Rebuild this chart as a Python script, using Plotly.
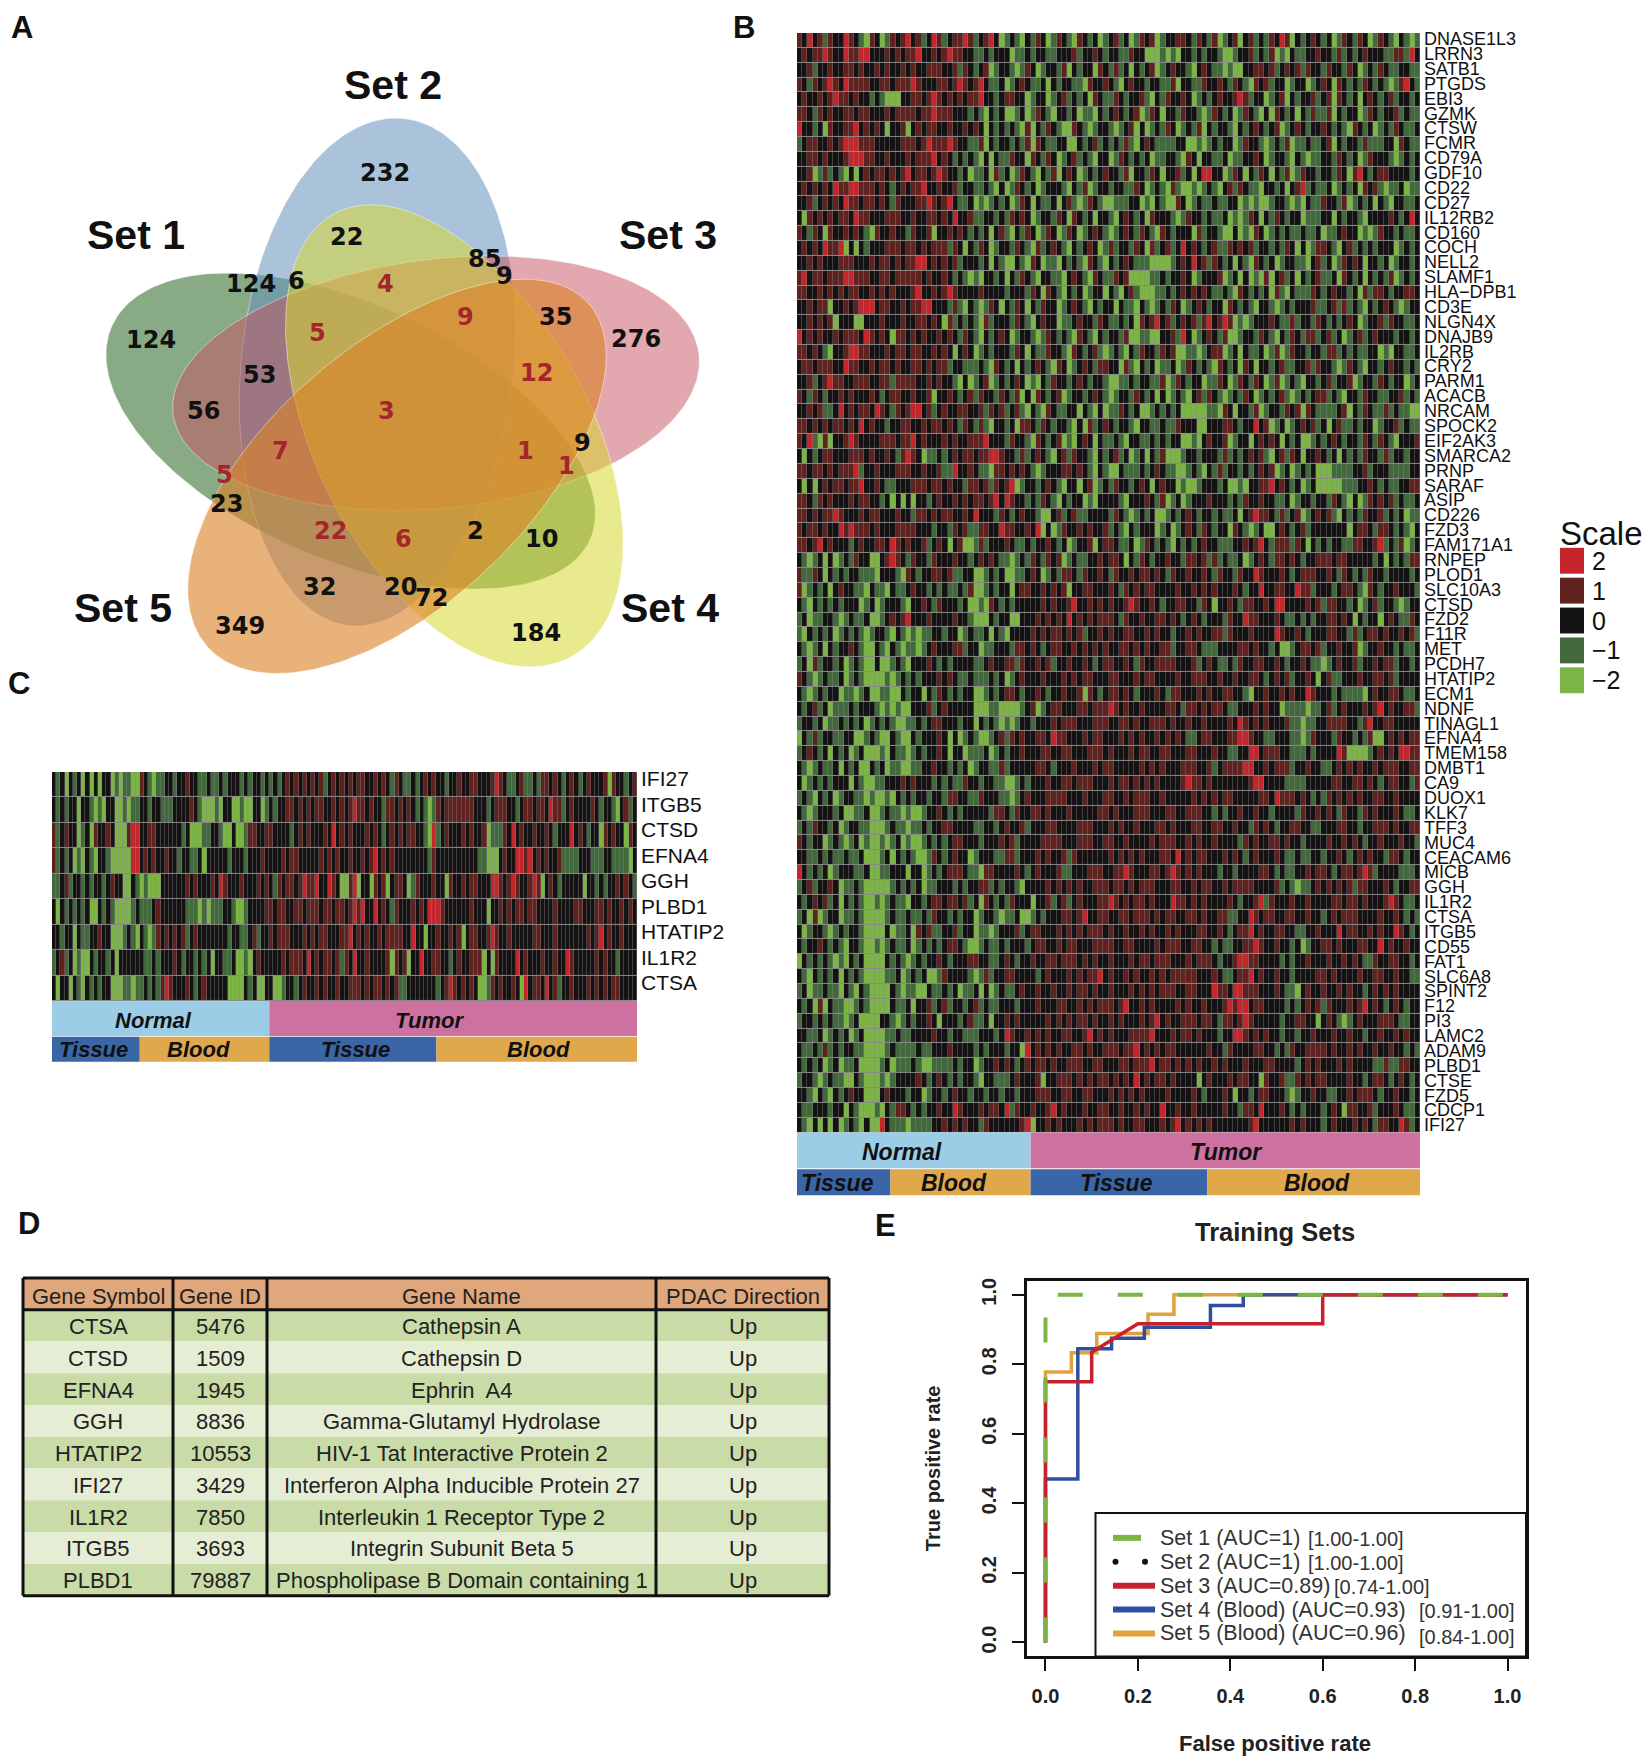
import numpy as np
import plotly.graph_objects as go

W, H = 1650, 1759

# panel A
set_names = ["Set 1", "Set 2", "Set 3", "Set 4", "Set 5"]
venn_counts = ["232", "22", "85", "9", "124", "6", "4", "5", "9", "35", "276", "124", "53", "12", "56", "3",
               "7", "1", "1", "9", "5", "23", "22", "6", "2", "10", "32", "20", "72", "349", "184"]

# panel B, digit = scale value + 2
b_genes = ["DNASE1L3", "LRRN3", "SATB1", "PTGDS", "EBI3", "GZMK", "CTSW", "FCMR", "CD79A", "GDF10", "CD22", "CD27",
           "IL12RB2", "CD160", "COCH", "NELL2", "SLAMF1", "HLA−DPB1", "CD3E", "NLGN4X", "DNAJB9", "IL2RB", "CRY2",
           "PARM1", "ACACB", "NRCAM", "SPOCK2", "EIF2AK3", "SMARCA2", "PRNP", "SARAF", "ASIP", "CD226", "FZD3",
           "FAM171A1", "RNPEP", "PLOD1", "SLC10A3", "CTSD", "FZD2", "F11R", "MET", "PCDH7", "HTATIP2", "ECM1", "NDNF",
           "TINAGL1", "EFNA4", "TMEM158", "DMBT1", "CA9", "DUOX1", "KLK7", "TFF3", "MUC4", "CEACAM6", "MICB", "GGH",
           "IL1R2", "CTSA", "ITGB5", "CD55", "FAT1", "SLC6A8", "SPINT2", "F12", "PI3", "LAMC2", "ADAM9", "PLBD1",
           "CTSE", "FZD5", "CDCP1", "IFI27"]
b_sections = [18, 27, 34, 41]
b_rows = [
    "32423132243210320132 34231243123343123420 12102132013210321201 23120132301223321321 30123023121324302123 21201321320132102101",
    "23233432243344222323 23342232343322112122 20112122112223122321 22113220001010221212 21001223121301021122 32213121232221133142",
    "22312232233232232322 32322333223132123012 21013201221302122032 13120212301232210232 11010022332312323132 21322132012132112211",
    "32132343243333223323 33432223323432342112 01232112021221103223 21023221221130221132 23213210323122012201 23203212132121013421",
    "23223234332322121000 22332343232323342212 33220122012312120321 13212231021322320121 23223431220123021223 12303212023212312212",
    "33213232233233222323 33323343332221210212 00120132102212011021 23212301320221322101 32120132102032120213 11302122013212231211",
    "42212032233423232022 30232332232232320212 12103021321003210122 10123020121320121302 12210212321230123212 23212103212012132112",
    "12332232344433322222 33323433343221130212 21213032112200212312 12131023211112200101 21220132210121301121 12302122131112203211",
    "22332322234443322322 23233342321212102021 13220321320123121022 01321212011221032022 11201122320122102101 12213212013222101212",
    "22301312102023233232 34233234322120112031 20132102130232012123 22130221320223120244 22013202132021301322 12213203421233222212",
    "23232324334433323212 32334223223122112102 01321201222102130122 12211320121031001012 10231321102212023412 11201212032310112011",
    "22312323243323323213 22233432342112010121 20132021120231013210 01112201021003201211 21122010100122101021 13221301212021022112",
    "20323232332433222333 22322332324223112212 13232012213203212022 10232120322210132212 11201013202132122011 12202122102222321242",
    "32132032232321032232 21322302232321212023 10213201320132012321 01232132103212220312 21002010320121211211 20112322010132212112",
    "23232433402021222333 23323233313202132012 21321031232102123201 31221320312312423212 31132323122121320201 33210231212122201212",
    "22323222333222323323 23344232323122212021 00210320110212103210 21232111000012324231 32120210321201221102 31201323202212012212",
    "34233233344333223323 33332322321210102212 02132102211023210321 13230000112122320122 23012020103023120212 31120321202121301212",
    "33223232323322323232 22342232343222232222 12221320321021201220 21023100011212323232 11210321212031021113 21232212031332122332",
    "22323302232344423322 32334422213102101320 21320213220123210212 20211021012132012321 22032121022101212223 11231312102123210122",
    "22323230222002223222 32233232031212103122 21321023220112322132 11212032342312323134 23430101222321131221 32121232012231322112",
    "42323223233324323203 32323223232132102123 20122101321210321021 22130011002231420123 21300122132102132133 12312012312322212212",
    "33232102234433222323 32332232320232012122 21320211322103212310 12102132213230011012 33012021120130132212 21331212112201022112",
    "23323332243322323323 22332323312211121032 12021232103201232133 22031021201120132121 03212032022123112231 32210132102212322121",
    "22312343322333223313 33322323221020123012 12320102132212321221 00112122113013212201 13201321320130121022 12312230122132122012",
    "32132122323222321233 22322302232123132213 21302032123012212321 01221321202012102313 21012132012123101212 33121022132211223121",
    "22323112423233243213 23442312322332231323 12310210321122021020 11321200121212000001 10320221301221323032 11112302132113121100",
    "33232323323242322122 33223233232132131022 12033213212210203123 21221022112113222002 22332122423012012323 12023112122012231211",
    "32410302234322223332 33423222323223334222 13221032123010232021 12102211212122001023 22301220232320212001 21232122132132102223",
    "20212332223332322321 34320112123233233443 22131232102313221021 23120120213000122122 21312123231023132022 32120212132213122122",
    "33233232333412232223 33223223114223211033 23232101222332321021 00211121232110012102 13122121232301201212 00011112231222111122",
    "20202323323342232112 22333233232213323132 34012212321022023012 13221232023220100122 21200102233423212012 00000111223212112233",
    "33213232223233221202 02022123223232332342 43221213210212201022 22102223213012012223 22212132232211201221 22132102013232312112",
    "33232334322232332223 22133232332232422213 21232210023123112222 13210121200121232122 12112023433213123012 32310212132231212011",
    "32332322434333232223 33322212213231133224 33223240201322323223 12102122201201232132 12203210120023212312 22222202332133212102",
    "33234232221232233243 23223123202300131222 32112122321201223023 32112013212102121232 21112232342133313202 12122113322341213012",
    "21012020121322002343 21322132223221232321 10121321323012112232 33202132122322133231 31211201232133232122 33323322222120212133",
    "31132021212211102221 03212233231122001212 00112320121332132232 13223233232132232232 13221322432223212333 22321321213221222212",
    "30121202322110211021 12322121211213001212 20233223232302233222 32132323322223223232 32223212242233224331 22212332103212232221",
    "21021212122201201222 10223213222120010321 21222223232234223232 32234322321223322132 02232133223244222232 31332212012312210122",
    "12011221012112001232 34222322223221000212 20022232323242323233 32132232233232123212 22132243322232112121 22332320212202321132",
    "10212120121210122102 10101122122012112021 02222323233232312232 32233223232212232322 33132223222243223212 22332213123323223231",
    "21012021223210021021 01101232223312201122 21332321233223232323 22332323223312233211 12222332322120012332 31223223012232212112",
    "12031221201210020012 10222321212222112322 33132232312232232123 32232132233332223123 21121322332232122321 10123223122323312212",
    "32101211201210000101 21212223232112111212 01232223222323233222 33222323322223223332 23223223321232312232 02311222322332312222",
    "21012122011012001100 21220213212122001212 33212232122322303212 33232122232133222323 22332210223223232243 22212111102322332112",
    "21231201112122210101 00222312322222000110 00012301233222332333 43232232222332133232 33211222323220111101 12312322232342322331",
    "12212011212120121210 01121233222122021210 10122122232333222333 22332322333232232232 22232432323222311011 22333322134223322222",
    "02131221122001210021 00212223202012100123 13232233243322232332 22323232232323211233 22233443221122211013 22213221213002323233",
    "12321202120120001021 10121223202201112012 12232223322332223332 32223233223322233222 32211224423332211121 22224300001232324433",
    "21012112021200212011 00112232212120122113 12222233212223222323 32222232323222333223 12333344223233312232 21123232322323332233",
    "20121212220210011222 32322212121132212211 00121222322332333222 32332323232222343323 22222223442222111122 22233223323212332213",
    "12102120122110100102 12122122133221132221 10123222333322232223 32232333223222223232 32332222233243332321 21323232322332232222",
    "21012221200112001211 01001223212122222133 21322332322232222233 23222333222332233322 12122322322122221322 32321322132322232112",
    "12132212012211000121 10112122332222112212 32231222332222333222 32322322233232223322 33223221323212233221 12223322122333232233",
    "32122012101201001012 01001212123322212223 23122223333222333223 32232222323332232322 32222132322332322122 22322323212232223221",
    "22112121121120001202 12100132123220122211 33122232322313222222 32323232223324232332 22323212322232112112 21223212323221332122",
    "42121201222112001122 20220121233321103322 22321232223112223332 23343222332343232322 21221222233212112232 33212332343122221112",
    "12312232011210000012 12120112221212233121 22102222323232322333 23323233322233223233 22323333222231210112 32323231332223212233",
    "21232312021210010121 10221233233231203212 13222022312312322233 43232332322243323232 22232122341322232232 22233233232223432112",
    "12030122011210000121 12112132212122012210 11200121222332342233 22332333232332233232 23311224323322332232 21232333222232232121",
    "20122101212210000201 12032311223122011012 22312332223232323332 32232232322323222332 23212334232233221122 32224233223232243212",
    "21223212102210010121 12012121233210012112 12221233223233222333 32233222232333223322 12112233432232212012 23323222332242322322",
    "02121210102120000212 10121223212223322112 32122322332333232322 32223233233322232333 21223443322221212232 22322323211322332212",
    "21021212021210000112 01212001322221013122 33222212322232323342 32232322323233333222 32112334232232212222 33232222322332232211",
    "12011211021021000021 01100211212011202012 11232232232232332322 32223232323332233222 43324433322232110232 23223232212323232222",
    "21203021100121000021 12022312312212312112 22122232223322323233 32342232322223232232 22343442332222121232 31322232342321232122",
    "12212121101200002210 12122320222123112022 32322222323232332322 32322232342322333233 21332343222221223322 02321012322233321122",
    "22112012120120000112 11222232212211122212 43223232322332234232 32223333422232332322 21224432323221221223 22232232212232232322",
    "21121312122110000121 11121122232222121222 12204232323223323223 33233423232332222223 22132222332212132233 33232232322322322121",
    "21212012011200001201 11210011112122012232 32123233232233322332 22332333423323232322 32322232223322221232 32223232222113113322",
    "12210121100210001012 22232123212122102211 12322230223332323233 23232423233232222023 22232332203223113232 33222232212332123212",
    "22102102123220002322 21220122123221221221 22122233322332233222 32323232222322223212 22320221233222101223 22112232333212232212",
    "21122212202100010213 32121223224322232332 41322322342322232233 22322323224223223222 22322133242223212122 21232033223122232112",
    "21020202012102004211 10111122323232213222 22234022323222323233 32322332223234232323 22222223422222232322 21232223232133224312",
]

# panel C
c_genes = ["IFI27", "ITGB5", "CTSD", "EFNA4", "GGH", "PLBD1", "HTATIP2", "IL1R2", "CTSA"]
c_sections = [21, 31, 40, 48]
c_rows = [
    "2120212020202201011003210112212232211211212221212212121232323232312323232 332232321321121232322122322332223432112311213323212321232223032212312433",
    "2121220221010220010112212211122223210001022001002201212233232323322323234 332322133232321210132333333322212333221233233243312322223212210231222301",
    "3123220120322320003442233222222120001122100200133223322221232322232423232 223232123232332210412322232322301113242322322321222423212203232203243432",
    "3121201021022100000442323223221221120222221222122232222323322222323232232 232342323222222221322222222221100023224434232322311112221112211110204",
    "1123122121221232200210100022222232322232432223222323213233234334224320034 022032302332013222322032232332224432343223430232122222022121223232102",
    "2021212120021210000121112322222211101011122100122223323322332333233233234 342242321322232324443222222322202232323323322223222233222332322323",
    "2212202112232200012102101323232312322222221221123122323332223232332223342 323223233332242202232232302332234322322222332223222222232342322322",
    "1231201002122120222222112122232122121202211200102322222323332423233231324 22322223032302242233221232233302032222423222322322432222232322122",
    "2022021021212200011011212134322232123222220000212002200122123223232232233 323233232311222222212343232320013232232042332423122322232323233",
]

# panel D
table_header = ["Gene Symbol", "Gene ID", "Gene Name", "PDAC Direction"]
gene_symbols = ["CTSA", "CTSD", "EFNA4", "GGH", "HTATIP2", "IFI27", "IL1R2", "ITGB5", "PLBD1"]
gene_ids = ["5476", "1509", "1945", "8836", "10553", "3429", "7850", "3693", "79887"]
gene_names = ["Cathepsin A", "Cathepsin D", "Ephrin  A4", "Gamma-Glutamyl Hydrolase", "HIV-1 Tat Interactive Protein 2",
              "Interferon Alpha Inducible Protein 27", "Interleukin 1 Receptor Type 2", "Integrin Subunit Beta 5",
              "Phospholipase B Domain containing 1"]
pdac_direction = ["Up"] * 9

# panel E
set1_fpr = [0, 0, 1]
set1_tpr = [0, 1, 1]
set3_fpr = [0, 0, 0.1, 0.1, 0.2, 0.6, 0.6, 1]
set3_tpr = [0, 0.75, 0.75, 0.835, 0.917, 0.917, 1, 1]
set4_fpr = [0, 0, 0.07, 0.07, 0.143, 0.143, 0.214, 0.214, 0.357, 0.357, 0.428, 0.428, 1]
set4_tpr = [0, 0.47, 0.47, 0.845, 0.845, 0.875, 0.875, 0.907, 0.907, 0.969, 0.969, 1, 1]
set5_fpr = [0, 0, 0.056, 0.056, 0.111, 0.111, 0.222, 0.222, 0.278, 0.278, 1]
set5_tpr = [0, 0.778, 0.778, 0.833, 0.833, 0.889, 0.889, 0.944, 0.944, 1, 1]
roc_legend = ["Set 1 (AUC=1)", "Set 2 (AUC=1)", "Set 3 (AUC=0.89)", "Set 4 (Blood) (AUC=0.93)", "Set 5 (Blood) (AUC=0.96)"]
roc_ci = ["[1.00-1.00]", "[1.00-1.00]", "[0.74-1.00]", "[0.91-1.00]", "[0.84-1.00]"]

scale_labels = ["2", "1", "0", "−1", "−2"]

RED, DARK_RED, BLACK, DARK_GREEN, GREEN = "#c4262c", "#60221f", "#141212", "#41693c", "#7db446"
HEAT_SCALE = [[0, GREEN], [0.25, DARK_GREEN], [0.5, BLACK], [0.75, DARK_RED], [1, RED]]
SANS = "Liberation Sans"
VENN_DY = -2


def decode(rows, n_cols):
    out = []
    for row in rows:
        row = row.replace(" ", "").ljust(n_cols, "2")[:n_cols]
        out.append([int(c) - 2 for c in row])
    return out


def domain(p0, p1, size):
    return [p0 / size, p1 / size]


def y_domain(top, bottom):
    return [1 - bottom / H, 1 - top / H]


def petal(tip, tail, half_width):
    # egg outline between its two ends, very slightly fatter towards the tip
    tip, tail = np.array(tip, float), np.array(tail, float)
    mid = (tip + tail) / 2
    axis = (tip - tail) / 2
    normal = np.array([-axis[1], axis[0]]) / np.hypot(*axis)
    t = np.linspace(0, 2 * np.pi, 240)
    width = half_width * np.sin(t) * (1 + 0.03 * np.cos(t))
    return mid[0] + axis[0] * np.cos(t) + normal[0] * width, mid[1] + axis[1] * np.cos(t) + normal[1] * width


fig = go.Figure()

layout_axes = dict(visible=False, fixedrange=True)
fig.update_layout(
    width=W, height=H, margin=dict(l=0, r=0, t=0, b=0), paper_bgcolor="white", plot_bgcolor="rgba(0,0,0,0)",
    showlegend=False, font=dict(family=SANS, color="#111111"),
    xaxis=dict(domain=[0, 1], range=[0, W], **layout_axes),
    yaxis=dict(domain=[0, 1], range=[H, 0], **layout_axes),
)

# panel A: five overlapping petals
petal_colors = ["rgba(50,110,45,0.58)", "rgba(100,145,190,0.55)", "rgba(200,80,95,0.50)",
                "rgba(215,215,50,0.55)", "rgba(220,130,40,0.62)"]
petal_ends = [((112, 325), (590, 540), 128), ((404, 117), (349, 626), 136), ((699, 354), (173, 413), 125),
              ((570, 658), (335, 212), 137), ((208, 648), (588, 302), 130)]
for color, (tip, tail, half_width) in zip(petal_colors, petal_ends):
    px, py = petal(tip, tail, half_width)
    fig.add_trace(go.Scatter(x=px, y=py + VENN_DY, mode="lines", fill="toself", fillcolor=color,
                             line=dict(color="rgba(255,255,255,0.45)", width=1), hoverinfo="skip"))

ann = []


def text(x, y, s, size, color="#111111", weight="normal", italic=False, family=SANS, anchor="center", angle=0):
    ann.append(dict(x=x, y=y, xref="x", yref="y", text=s, showarrow=False, xanchor=anchor, yanchor="middle",
                    textangle=angle, font=dict(family=family, size=size, color=color, weight=weight,
                                               style="italic" if italic else "normal")))


venn_pos = [(385, 172), (346, 236), (484, 258), (504, 275), (251, 283), (296, 280), (385, 283), (317, 332), (465, 316),
            (555, 316), (636, 338), (151, 339), (259, 374), (536, 372), (203, 411), (386, 411), (280, 451), (525, 451),
            (566, 466), (582, 443), (224, 475), (226, 504), (330, 531), (403, 539), (475, 531), (541, 539), (319, 587),
            (400, 587), (431, 598), (240, 626), (536, 634)]
red_idx = {6, 7, 8, 13, 15, 16, 17, 18, 20, 22, 23}
for i, (label, pos) in enumerate(zip(venn_counts, venn_pos)):
    text(pos[0], pos[1] + VENN_DY, label, 24, "#a3262c" if i in red_idx else "#111111", "bold", family="DejaVu Sans")
for name, pos in zip(set_names, [(136, 232), (393, 81), (668, 232), (670, 606), (123, 606)]):
    text(pos[0], pos[1], name, 41, "#111111", "bold")
for letter, pos in zip("ABCDE", [(22, 24), (744, 24), (19, 682), (29, 1224), (885, 1226)]):
    text(pos[0], pos[1], letter, 31, "#111111", "bold")

shapes = []


def rect(x0, y0, x1, y1, fill, layer="above", line=None, width=0):
    shapes.append(dict(type="rect", xref="x", yref="y", x0=x0, y0=y0, x1=x1, y1=y1, fillcolor=fill, layer=layer,
                       line=dict(color=line or fill, width=width)))


def heat_panel(rows, genes, sections, box, bars, axes, label_size, label_shift, group_dx, sub_dx, tsize):
    x0, x1, top, bottom = box
    bar1, bar2 = bars
    xname, yname = axes
    n_cols = sum(sections)
    n_rows = len(rows)
    rect(x0, top, x1, bottom, "#8a8a8a", "below")
    fig.add_trace(go.Heatmap(z=decode(rows, n_cols), colorscale=HEAT_SCALE, zmin=-2, zmax=2, showscale=False,
                             xgap=0.4, ygap=1, hoverinfo="skip", xaxis=xname, yaxis=yname))
    # labels sit slightly above their rows, more so towards the top
    tick_pos = [i - label_shift[0] + (label_shift[0] - label_shift[1]) * i / (n_rows - 1) for i in range(n_rows)]
    fig.update_layout({
        xname.replace("x", "xaxis"): dict(domain=domain(x0, x1, W), range=[-0.5, n_cols - 0.5], anchor=yname,
                                          visible=False, fixedrange=True),
        yname.replace("y", "yaxis"): dict(domain=y_domain(top, bottom), range=[n_rows - 0.5, -0.5], anchor=xname,
                                          side="right", tickmode="array", tickvals=tick_pos,
                                          ticktext=genes, ticks="", showline=False, showgrid=False, zeroline=False,
                                          fixedrange=True, ticklabelstandoff=3,
                                          tickfont=dict(family=SANS, size=label_size, color="#111111")),
    })
    # sample group bars share the heatmap's column scale
    edges = x0 + np.cumsum([0] + sections) * (x1 - x0) / n_cols
    rect(edges[0], bottom, edges[2], bar1, "#9bcde6")
    rect(edges[2], bottom, edges[4], bar1, "#cd72a0")
    text((edges[0] + edges[2]) / 2 + group_dx[0], (bottom + bar1) / 2 + 2, "Normal", tsize, weight="bold", italic=True)
    text((edges[2] + edges[4]) / 2 + group_dx[1], (bottom + bar1) / 2 + 2, "Tumor", tsize, weight="bold", italic=True)
    for i, (fill, name) in enumerate(zip(["#3a66a7", "#e0a84a", "#3a66a7", "#e0a84a"],
                                         ["Tissue", "Blood", "Tissue", "Blood"])):
        rect(edges[i], bar1 + 1, edges[i + 1], bar2, fill)
        text((edges[i] + edges[i + 1]) / 2 + sub_dx[i], (bar1 + bar2) / 2 + 1, name, tsize, weight="bold", italic=True)


heat_panel(b_rows, b_genes, b_sections, (797, 1420, 29, 1133), (1169, 1196), ("x2", "y2"), 18, (0.1, 0),
           (-12, 1), (-6.5, -6.5, -2, 3.5), 23)
heat_panel(c_rows, c_genes, c_sections, (52, 637, 771, 1001), (1036, 1062), ("x3", "y3"), 21, (0.22, 0.22),
           (-7, -24), (-2, -6.5, 2.5, 1.5), 22)

# scale legend
text(1558, 532, "Scale", 33, anchor="left")
for i, (color, label) in enumerate(zip([RED, DARK_RED, BLACK, DARK_GREEN, GREEN], scale_labels)):
    rect(1560, 546 + 30 * i, 1584, 572 + 30 * i, color)
    text(1590, 559 + 30 * i, label, 25, anchor="left")

# panel D table
col_edges = [23, 173, 267, 656, 829]
header_top, header_bottom, table_bottom = 1279, 1311, 1598
row_h = (table_bottom - header_bottom) / len(gene_symbols)
rect(col_edges[0], header_top, col_edges[-1], header_bottom, "#e0a67c")
columns = [gene_symbols, gene_ids, gene_names, pdac_direction]
for r in range(len(gene_symbols)):
    y0 = header_bottom + r * row_h
    rect(col_edges[0], y0, col_edges[-1], y0 + row_h, "#c9dba6" if r % 2 == 0 else "#e6edd5")
for c, head in enumerate(table_header):
    cx = (col_edges[c] + col_edges[c + 1]) / 2
    text(cx, (header_top + header_bottom) / 2 + 3, head, 22, color="#222222")
    for r, value in enumerate(columns[c]):
        text(cx, header_bottom + (r + 0.5) * row_h + 1, str(value), 22, color="#222222")
for x in col_edges:
    shapes.append(dict(type="line", xref="x", yref="y", x0=x, x1=x, y0=header_top, y1=table_bottom,
                       line=dict(color="#111111", width=3)))
for y in [header_top, header_bottom, table_bottom]:
    shapes.append(dict(type="line", xref="x", yref="y", x0=col_edges[0], x1=col_edges[-1], y0=y, y1=y,
                       line=dict(color="#111111", width=3)))

# panel E ROC
for fpr, tpr, color in [(set5_fpr, set5_tpr, "#e0a23a"), (set4_fpr, set4_tpr, "#2f4f9e"), (set3_fpr, set3_tpr, "#c8202c")]:
    fig.add_trace(go.Scatter(x=fpr, y=tpr, mode="lines", line=dict(color=color, width=3.5), xaxis="x4", yaxis="y4",
                             hoverinfo="skip"))
fig.add_trace(go.Scatter(x=set1_fpr, y=set1_tpr, mode="lines", line=dict(color="#7db446", width=4, dash="25px,35px"),
                         xaxis="x4", yaxis="y4", hoverinfo="skip"))
roc_ticks = [0, 0.2, 0.4, 0.6, 0.8, 1]
roc_text = ["0.0", "0.2", "0.4", "0.6", "0.8", "1.0"]
roc_axis = dict(range=[-0.04, 1.04], tickvals=roc_ticks, ticktext=roc_text, ticks="outside", ticklen=12, tickwidth=2,
                tickcolor="#111111", showline=True, mirror=True, linewidth=2.5, linecolor="#111111", showgrid=False,
                zeroline=False, fixedrange=True, ticklabelstandoff=8,
                tickfont=dict(family=SANS, size=20, weight="bold", color="#222222"))
fig.update_layout(
    xaxis4=dict(domain=domain(1027, 1526, W), anchor="y4", **roc_axis),
    yaxis4=dict(domain=y_domain(1282, 1659), anchor="x4", tickangle=-90, **roc_axis),
)
text(1275, 1233, "Training Sets", 25.5, weight="bold", color="#222222")
text(1275, 1746, "False positive rate", 22, weight="bold", color="#222222")
text(933, 1470, "True positive rate", 20, weight="bold", color="#222222", angle=-90)

# ROC legend box
rect(1095.5, 1515, 1526, 1659, "white", line="#111111", width=2)
legend_y = [1540, 1564, 1588, 1612, 1636]
ci_x = [1306, 1306, 1332, 1417, 1417]
ci_dy = [1, 1, 1, 1, 4]
glyphs = [("#7db446", 1141), (None, None), ("#c8202c", 1155), ("#2f4f9e", 1155), ("#e0a23a", 1155)]
for label, ci, y, cx, dy, (color, end) in zip(roc_legend, roc_ci, legend_y, ci_x, ci_dy, glyphs):
    text(1158, y, label, 21.5, anchor="left", color="#333333")
    text(cx, y + dy, ci, 20, anchor="left", color="#333333")
    if color:
        shapes.append(dict(type="line", xref="x", yref="y", x0=1113, x1=end, y0=y, y1=y, line=dict(color=color, width=6)))
    else:
        for dx in [1115.5, 1145]:
            shapes.append(dict(type="circle", xref="x", yref="y", x0=dx - 3, x1=dx + 3, y0=y - 3, y1=y + 3,
                               fillcolor="#111111", line=dict(color="#111111", width=0)))

fig.update_layout(annotations=ann, shapes=shapes)
fig.write_html("out.html", config=dict(displayModeBar=False), post_script="document.body.style.margin='0';")
